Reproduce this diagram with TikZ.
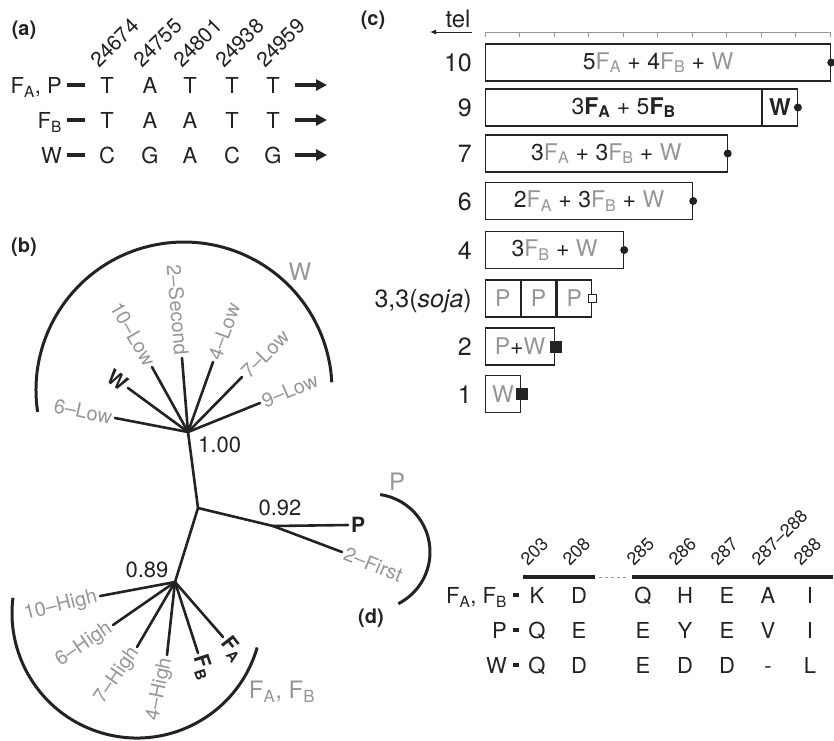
\documentclass[tikz,border=0pt]{standalone}
\usepackage{fontspec}
\setmainfont{TeX Gyre Heros}
\usepackage{tikz}
\usetikzlibrary{arrows.meta, positioning, calc}
\definecolor{InkDark}{RGB}{35, 35, 35}
\definecolor{LabGray}{RGB}{150, 150, 150}

\newcommand{\setpx}[1]{\fontsize{#1}{#1}\selectfont}
\newcommand{\Fsub}[1]{F\textsubscript{#1}}
\newcommand{\gF}[1]{\textcolor{LabGray}{F\textsubscript{#1}}}
\newcommand{\gW}{\textcolor{LabGray}{W}}
\newcommand{\gP}{\textcolor{LabGray}{P}}

\tikzset{
  panel/.style={font=\setpx{20}\bfseries, text=InkDark, inner sep=0pt},
  rowlab/.style={font=\setpx{22}, text=InkDark, inner sep=0pt, anchor=base east},
  resid/.style={font=\setpx{22}, text=InkDark, inner sep=0pt, anchor=base},
  posnum/.style={text=InkDark, inner sep=0pt, anchor=base west},
  rowdash/.style={line width=3.5pt, InkDark},
  seqarrow/.style={line width=3.5pt, InkDark, -{Triangle[length=11pt, width=11pt]}},
  branch/.style={line width=2.6pt, line cap=round, InkDark},
  cladearc/.style={line width=3pt, InkDark},
  leaf/.style={font=\setpx{20}, text=LabGray, inner sep=3pt},
  leafref/.style={font=\setpx{21}\bfseries, text=InkDark, inner sep=3pt},
  cladelab/.style={font=\setpx{24}, text=LabGray, inner sep=0pt},
  support/.style={font=\setpx{22}, text=InkDark, inner sep=0pt},
  ruler/.style={line width=1pt, LabGray},
  telarrow/.style={line width=1pt, InkDark, -{Latex[length=6pt, width=5pt]}},
  barbox/.style={draw=InkDark, line width=1.2pt, minimum height=37pt, inner sep=0pt,
    anchor=west, font=\setpx{23}, text=InkDark},
  barnum/.style={font=\setpx{25}, text=InkDark, inner sep=0pt, anchor=base east},
  enddot/.style={circle, fill=InkDark, inner sep=0pt, minimum size=8pt},
  endsq/.style={rectangle, fill=InkDark, inner sep=0pt, minimum size=12pt},
  opensq/.style={rectangle, draw=InkDark, fill=white, line width=0.7pt, inner sep=0pt, minimum size=8pt},
}

\begin{document}
\begin{tikzpicture}[x=1pt, y=-1pt]
  \useasboundingbox (0,0) rectangle (834,740);

  % ---- (a) sequence sites
  \node[panel] (lab-a) at (24,30) {(a)};
  \foreach \x/\site [count=\i] in {107/24674, 150/24755, 190/24801, 232/24938, 273/24959}
    \node[posnum, rotate=45, font=\setpx{21}] (site-a\i) at (\x-8,69) {\site};
  \foreach \y/\nm/\lab/\seq in {85/fap/{\Fsub{A}, P}/{T,A,T,T,T},
                                120/fb/{\Fsub{B}}/{T,A,A,T,T},
                                155/w/{W}/{C,G,A,C,G}}{
    \node[rowlab] (row-\nm) at (62,\y+8) {\lab};
    \coordinate (dashL-\nm) at (67,\y);
    \coordinate (dashR-\nm) at (85,\y);
    \draw[rowdash] (dashL-\nm) -- (dashR-\nm);
    \foreach \r [count=\j from 0] in \seq {
      \pgfmathsetmacro{\cx}{{107,150,190,232,273}[\j]}
      \node[resid] (a-\nm-\j) at (\cx,\y+8) {\r};
    }
    \coordinate (arrL-\nm) at (295,\y);
    \coordinate (arrR-\nm) at (327,\y);
    \draw[seqarrow] (arrL-\nm) -- (arrR-\nm);
  }

  % ---- (b) tree
  \node[panel] (lab-b) at (24,247) {(b)};
  \coordinate (hubW) at (188,432);
  \coordinate (root) at (198,508);
  \coordinate (hubF) at (175,582);
  \coordinate (hubP) at (273,526);
  \draw[branch] (hubW) -- (root) -- (hubF);
  \draw[branch] (root) -- (hubP);
  \foreach \nm/\x/\y/\ang/\anc/\sty/\txt in {
      l6/115/418/-12/east/leaf/6--Low, wref/128/388/-36/east/leafref/W,
      l10/152/367/-60/east/leaf/10--Low, sec/182/358/-85/east/leaf/2--Second,
      l4/213/362/70/west/leaf/4--Low, l7/242/377/45/west/leaf/7--Low,
      l9/260/403/23/west/leaf/9--Low}{
    \coordinate (tip-\nm) at (\x,\y);
    \draw[branch] (hubW) -- (tip-\nm);
    \node[\sty, rotate=\ang, anchor=\anc] (leaf-\nm) at (tip-\nm) {\txt};
  }
  \foreach \nm/\x/\y/\ang/\anc/\sty/\txt in {
      h10/100/596/14/east/leaf/10--High, h6/113/625/34/east/leaf/6--High,
      h7/137/647/55/east/leaf/7--High, h4/167/655/78/east/leaf/4--High,
      fbref/198/653/-72/west/leafref/\Fsub{B}, faref/223/637/-52/west/leafref/\Fsub{A}}{
    \coordinate (tip-\nm) at (\x,\y);
    \draw[branch] (hubF) -- (tip-\nm);
    \node[\sty, rotate=\ang, anchor=\anc] (leaf-\nm) at (tip-\nm) {\txt};
  }
  \foreach \nm/\x/\y/\ang/\anc/\sty/\txt in {
      pref/348/525/0/west/leafref/P, first/342/552/-22/west/leaf/2--First}{
    \coordinate (tip-\nm) at (\x,\y);
    \draw[branch] (hubP) -- (tip-\nm);
    \node[\sty, rotate=\ang, anchor=\anc] (leaf-\nm) at (tip-\nm) {\txt};
  }
  \node[support, anchor=north west] (sup-w) at (198,437) {1.00};
  \node[support] (sup-p) at (280,508) {0.92};
  \node[support] (sup-f) at (147,570) {0.89};

  % clade arcs
  \coordinate (arcW) at (184,390);
  \coordinate (arcP) at (372,552);
  \coordinate (arcF) at (137,613);
  \draw[cladearc] (arcW) ++(171.5:148) arc[start angle=171.5, end angle=357, radius=148];
  \draw[cladearc] (arcP) ++(-82:58) arc[start angle=-82, end angle=63, radius=58];
  \draw[cladearc] (arcF) ++(16:125) arc[start angle=16, end angle=187, radius=125];
  \node[cladelab] (clade-w) at (300,272) {W};
  \node[cladelab] (clade-p) at (397,482) {P};
  \node[cladelab] (clade-f) at (282,692) {\Fsub{A}, \Fsub{B}};

  % ---- (c) bars
  \node[panel] (lab-c) at (373,20) {(c)};
  \node[font=\setpx{24}, text=InkDark, inner sep=0pt, anchor=base] (tel) at (458,27) {tel};
  \coordinate (telR) at (472,32);
  \coordinate (telL) at (430,32);
  \draw[telarrow] (telR) -- (telL);
  \coordinate (rulerL) at (485,32);
  \coordinate (rulerR) at (830,32);
  \draw[ruler] (rulerL) -- (rulerR);
  \foreach \k in {0,...,10}
    \draw[ruler] (485+34.5*\k,32) -- ++(0,5);

  \node[barbox, minimum width=10*34.5pt] (bar10) at (485,62.5) {5\gF{A} + 4\gF{B} + \gW};
  \node[barbox, minimum width=8*34.5pt] (bar9) at (485,107.5)
    {3\textbf{F\textsubscript{A}} + 5\textbf{F\textsubscript{B}}};
  \node[barbox, minimum width=34.5pt] (bar9w) at (bar9.east) {\textbf{W}};
  \node[barbox, minimum width=7*34.5pt] (bar7) at (485,153.5) {3\gF{A} + 3\gF{B} + \gW};
  \node[barbox, minimum width=6*34.5pt] (bar6) at (485,201) {2\gF{A} + 3\gF{B} + \gW};
  \node[barbox, minimum width=4*34.5pt] (bar4) at (485,250) {3\gF{B} + \gW};
  \node[barbox, minimum width=34.5pt] (soja1) at (485,298.5) {\gP};
  \node[barbox, minimum width=34.5pt] (soja2) at (soja1.east) {\gP};
  \node[barbox, minimum width=34.5pt] (soja3) at (soja2.east) {\gP};
  \node[barbox, minimum width=2*34.5pt] (bar2) at (485,346.5) {\gP+\gW};
  \node[barbox, minimum width=34.5pt] (bar1) at (485,394) {\gW\hspace{4pt}};

  \foreach \b in {bar10, bar9w, bar7, bar6, bar4}
    \node[enddot] at (\b.east) {};
  \node[opensq] (mark-soja) at (soja3.east) {};
  \node[endsq] (mark-2) at ([xshift=1pt]bar2.east) {};
  \node[endsq] (mark-1) at ([xshift=1pt]bar1.east) {};

  \foreach \y/\nm/\lab in {62.5/10/10, 107.5/9/9, 153.5/7/7, 201/6/6, 250/4/4,
                           298.5/soja/{3,3(\textit{soja})}, 346.5/2/2, 394/1/1}
    \node[barnum] (num-\nm) at (472,\y+9) {\lab};

  % ---- (d) residues
  \node[panel] (lab-d) at (371,618) {(d)};
  \foreach \x/\site [count=\i] in {537/203, 579/208, 643/285, 685/286, 727/287, 768/287--288, 810/288}
    \node[posnum, rotate=45, font=\setpx{18}] (site-d\i) at (\x-9,567) {\site};
  \coordinate (segA1) at (523,577);
  \coordinate (segA2) at (595,577);
  \coordinate (segB1) at (632,577);
  \coordinate (segB2) at (833,577);
  \draw[line width=4pt, InkDark] (segA1) -- (segA2);
  \draw[line width=0.8pt, LabGray, dashed] (segA2) ++(4,0) -- ($(segB1)+(-4,0)$);
  \draw[line width=4pt, InkDark] (segB1) -- (segB2);
  \foreach \y/\nm/\lab/\seq in {595/fab/{\Fsub{A}, \Fsub{B}}/{K,D,Q,H,E,A,I},
                                630/p/{P}/{Q,E,E,Y,E,V,I},
                                665/w/{W}/{Q,D,E,D,D,-,L}}{
    \node[rowlab] (drow-\nm) at (507,\y+8) {\lab};
    \coordinate (ddL-\nm) at (513,\y);
    \coordinate (ddR-\nm) at (519,\y);
    \draw[line width=4pt, InkDark] (ddL-\nm) -- (ddR-\nm);
    \foreach \r [count=\j from 0] in \seq {
      \pgfmathsetmacro{\cx}{{537,579,643,685,727,768,810}[\j]}
      \node[resid] (d-\nm-\j) at (\cx,\y+8) {\r};
    }
  }
\end{tikzpicture}
\end{document}
